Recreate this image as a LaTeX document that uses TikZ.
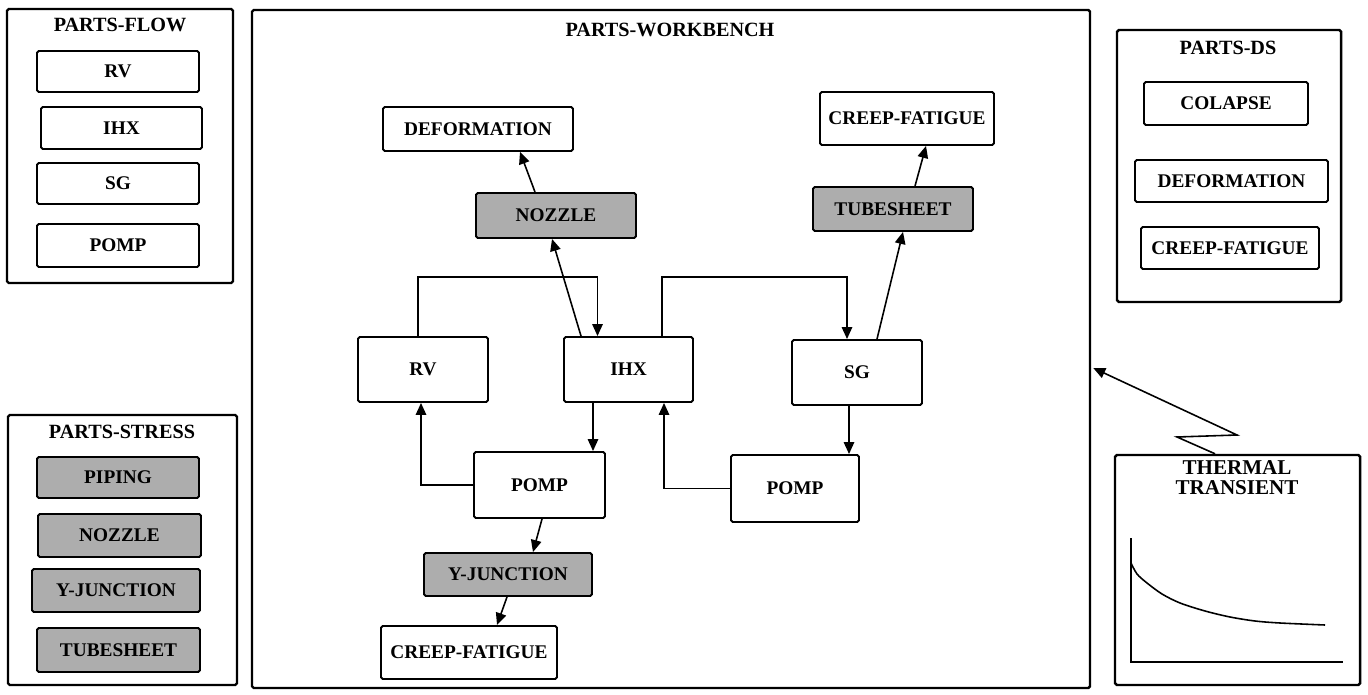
\documentclass[tikz,border=0pt]{standalone}
\usepackage{fontspec}
\setmainfont{Liberation Serif}
\usetikzlibrary{arrows.meta,calc}
\begin{document}
\begin{tikzpicture}[x=0.02cm,y=-0.02cm,
  frame/.style={draw,line width=1.4pt,rounded corners=1pt,inner sep=0pt},
  box/.style={draw,line width=1.1pt,rounded corners=1pt,inner sep=0pt,font=\bfseries\fontsize{11}{13}\selectfont},
  shadedbox/.style={box,fill=black!32},
  ttl/.style={inner sep=0pt,font=\bfseries\fontsize{11.5}{13}\selectfont},
  sz/.style 2 args={minimum width=#1*0.02cm,minimum height=#2*0.02cm},
  conn/.style={line width=0.9pt},
  arr/.style={conn,-{Triangle[length=0.24cm,width=0.21cm]}}]
\useasboundingbox (0,0) rectangle (1368,695);

% PARTS-FLOW
\node[frame,sz={226}{274}] (flow) at (120,146) {};
\node[ttl] (flowt) at (120,25) {PARTS-FLOW};
\node[box,sz={162}{41}] (frv) at (118,71.5) {RV};
\node[box,sz={161}{42}] (fihx) at (121.5,128) {IHX};
\node[box,sz={162}{41}] (fsg) at (118,183.5) {SG};
\node[box,sz={162}{43}] (fpomp) at (118,245.5) {POMP};

% PARTS-STRESS
\node[frame,sz={229}{270}] (stress) at (122.5,550) {};
\node[ttl] (stresst) at (122,432) {PARTS-STRESS};
\node[shadedbox,sz={162}{41}] (spip) at (118,477.5) {PIPING};
\node[shadedbox,sz={163}{43}] (snoz) at (119.5,535.5) {NOZZLE};
\node[shadedbox,sz={168}{43}] (syj) at (116,590.5) {Y-JUNCTION};
\node[shadedbox,sz={163}{44}] (sts) at (118.5,650) {TUBESHEET};

% PARTS-DS
\node[frame,sz={224}{272}] (ds) at (1229,166) {};
\node[ttl] (dst) at (1228,48) {PARTS-DS};
\node[box,sz={164}{43}] (dcol) at (1226,103.5) {COLAPSE};
\node[box,sz={193}{42}] (ddef) at (1231.5,181) {DEFORMATION};
\node[box,sz={178}{42}] (dcf) at (1230,248) {CREEP-FATIGUE};

% THERMAL TRANSIENT
\node[frame,sz={245}{230}] (th) at (1237.5,570) {};
\node[ttl,align=center,font=\bfseries\fontsize{12}{11.5}\selectfont] (tht) at (1237,478) {THERMAL\\TRANSIENT};
\draw[line width=0.9pt] (1131,538) -- (1131,662) -- (1343,662);
\draw[line width=0.9pt] plot[smooth] coordinates {(1131,563) (1137,574) (1147,583) (1162,594) (1180,603) (1205,611) (1230,617) (1255,621) (1280,623) (1325,625)};

% PARTS-WORKBENCH
\node[frame,sz={838}{678}] (wb) at (671,349) {};
\node[ttl] (wbt) at (670,30) {PARTS-WORKBENCH};

\node[box,sz={190}{44}] (def) at (478,129) {DEFORMATION};
\node[shadedbox,sz={160}{45}] (noz) at (556,215.5) {NOZZLE};
\node[box,sz={130}{65}] (rv) at (423,369.5) {RV};
\node[box,sz={129}{65}] (ihx) at (628.5,369.5) {IHX};
\node[box,sz={130}{65}] (sg) at (857,372.5) {SG};
\node[box,sz={174}{53}] (cft) at (907,118.5) {CREEP-FATIGUE};
\node[shadedbox,sz={160}{44}] (ts) at (893,209) {TUBESHEET};
\node[box,sz={131}{66}] (pomp1) at (539.5,485) {POMP};
\node[box,sz={128}{67}] (pomp2) at (795,488.5) {POMP};
\node[shadedbox,sz={168}{43}] (yj) at (508,574.5) {Y-JUNCTION};
\node[box,sz={176}{53}] (cfb) at (469,652.5) {CREEP-FATIGUE};

% connectors
\draw[arr] ($(rv.north)+(-5,0)$) |- ($(ihx.north)+(-31,-59)$) -- ($(ihx.north)+(-31,0)$);
\draw[arr] ($(ihx.north)+(-47.5,0)$) -- ($(noz.south)+(-4,0)$);
\draw[arr] ($(noz.north)+(-21,0)$) -- ($(def.south)+(42,0)$);
\draw[arr] ($(ihx.north)+(33.5,0)$) |- ($(sg.north)+(-10,-62)$) -- ($(sg.north)+(-10,0)$);
\draw[arr] ($(sg.north)+(20,0)$) -- ($(ts.south)+(10,0)$);
\draw[arr] ($(ts.north)+(22,0)$) -- ($(cft.south)+(19,0)$);
\draw[arr] ($(sg.south)+(-8,0)$) -- ($(pomp2.north)+(54,0)$);
\draw[arr] (pomp2.west) -| ($(ihx.south)+(35.5,0)$);
\draw[arr] (pomp1.west) -| ($(rv.south)+(-2,0)$);
\draw[arr] ($(ihx.south)+(-35.5,0)$) -- ($(pomp1.north)+(53.5,0)$);
\draw[arr] ($(pomp1.south)+(2.5,0)$) -- ($(yj.north)+(25,0)$);
\draw[arr] ($(yj.south)+(-1,0)$) -- ($(cfb.north)+(28,0)$);

% thermal link
\draw[arr] ($(th.north)+(-22.5,0)$) -- (1177,437) -- (1237,435) -- ($(wb.east)+(2,19)$);
\end{tikzpicture}
\end{document}
